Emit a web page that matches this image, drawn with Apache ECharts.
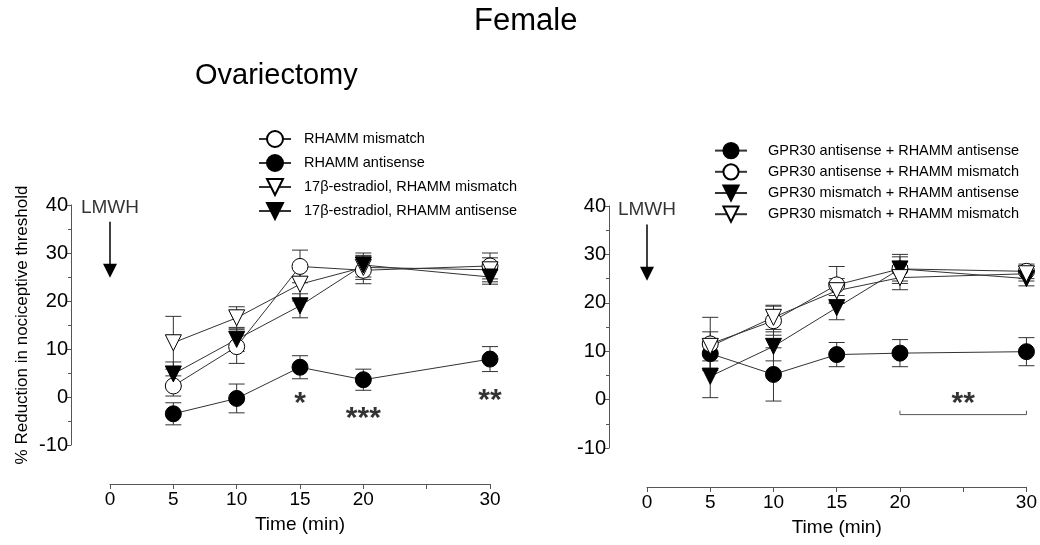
<!DOCTYPE html>
<html>
<head>
<meta charset="utf-8">
<script src="https://cdn.jsdelivr.net/npm/echarts@6/dist/echarts.min.js"></script>
<style>html,body{margin:0;padding:0;background:#fff}#c{width:1040px;height:545px}</style>
</head>
<body>
<div id="c"></div>
<script>
// ---- data ----
const times = [5, 10, 15, 20, 30];
const xTickLabels = [0, 5, 10, 15, 20, 30];
const yTickLabels = [-10, 0, 10, 20, 30, 40];

// Left panel (Ovariectomy)
const leftNames = ['RHAMM mismatch', 'RHAMM antisense', '17\u03b2-estradiol, RHAMM mismatch', '17\u03b2-estradiol, RHAMM antisense'];
const rhammMismatch = [2.3, 10.5, 27.2, 26.4, 27.3];
const rhammMismatchErr = [2.1, 3.5, 3.4, 2.8, 2.7];
const rhammAntisense = [-3.5, -0.3, 6.2, 3.6, 7.9];
const rhammAntisenseErr = [2.3, 3.0, 2.4, 2.2, 2.6];
const estMismatch = [11.3, 16.5, 23.5, 27.0, 26.5];
const estMismatchErr = [5.5, 2.3, 3.5, 2.5, 2.5];
const estAntisense = [4.8, 12.0, 19.0, 27.5, 25.0];
const estAntisenseErr = [2.5, 2.5, 2.5, 2.5, 1.5];
const leftSig = [[15, -1.4, '*'], [20, -4.5, '***'], [30, -0.8, '**']];

// Right panel
const rightNames = ['GPR30 antisense + RHAMM antisense', 'GPR30 antisense + RHAMM mismatch', 'GPR30 mismatch + RHAMM antisense', 'GPR30 mismatch + RHAMM mismatch'];
const gAsRAs = [9.5, 5.2, 9.3, 9.6, 9.9];
const gAsRAsErr = [3.0, 5.5, 2.5, 2.8, 2.9];
const gAsRMm = [11.5, 16.3, 23.7, 27.0, 26.5];
const gAsRMmErr = [5.5, 3.0, 3.8, 3.0, 1.5];
const gMmRAs = [4.8, 11.0, 19.0, 27.0, 25.0];
const gMmRAsErr = [4.4, 3.0, 2.5, 2.5, 1.5];
const gMmRMm = [11.0, 17.0, 22.5, 25.2, 26.0];
const gMmRMmErr = [3.0, 2.5, 2.5, 2.5, 1.5];
const rightSig = [[25, -0.8, '**']];
const rightBracket = [[20, -2.3], [20, -3.1], [30, -3.1], [30, -2.3]];

// LMWH injection marker
const lmwhX = 0;
const lmwhLabelY = [39.4, 39.3];
const lmwhArrowLeft = [36.5, 26.3];
const lmwhArrowRight = [36.2, 26.0];

// ---- build ----
const FONT = "'Liberation Sans', Arial, Helvetica, sans-serif";
const styles = {
  openCircle: { symbol: 'circle', rot: 0, fill: '#fff' },
  fillCircle: { symbol: 'circle', rot: 0, fill: '#000' },
  openTri: { symbol: 'triangle', rot: 180, fill: '#fff' },
  fillTri: { symbol: 'triangle', rot: 180, fill: '#000' }
};

function lineSeries(name, vals, st, gi) {
  return {
    type: 'line', name: name, xAxisIndex: gi, yAxisIndex: gi,
    data: times.map((t, i) => [t, vals[i]]),
    symbol: st.symbol, symbolRotate: st.rot, symbolSize: 16,
    showAllSymbol: true, clip: false, z: 3,
    itemStyle: { color: st.fill, borderColor: '#000', borderWidth: 1, opacity: 1 },
    lineStyle: { color: '#333', width: 1 },
    emphasis: { disabled: true }, animation: false
  };
}

function errSeries(vals, errs, gi) {
  return {
    type: 'custom', xAxisIndex: gi, yAxisIndex: gi, silent: true, z: 2, clip: false,
    data: times.map((t, i) => [t, vals[i], errs[i]]),
    renderItem: function (params, api) {
      const x = api.value(0), y = api.value(1), e = api.value(2);
      const top = api.coord([x, y + e]);
      const bot = api.coord([x, y - e]);
      const hw = 8;
      const st = { stroke: '#333', lineWidth: 1 };
      return {
        type: 'group', children: [
          { type: 'line', shape: { x1: top[0], y1: top[1], x2: bot[0], y2: bot[1] }, style: st },
          { type: 'line', shape: { x1: top[0] - hw, y1: top[1], x2: top[0] + hw, y2: top[1] }, style: st },
          { type: 'line', shape: { x1: bot[0] - hw, y1: bot[1], x2: bot[0] + hw, y2: bot[1] }, style: st }
        ]
      };
    },
    animation: false
  };
}

function sigSeries(sig, gi) {
  return {
    type: 'scatter', xAxisIndex: gi, yAxisIndex: gi, symbolSize: 0, silent: true, clip: false,
    data: sig.map(s => ({ value: [s[0], s[1]], label: { formatter: s[2] } })),
    label: { show: true, position: 'inside', fontSize: 30, fontWeight: 'bold', color: '#000', fontFamily: FONT },
    animation: false
  };
}

function lmwhSeries(gi, labelY, arrow) {
  return {
    type: 'scatter', xAxisIndex: gi, yAxisIndex: gi, symbolSize: 0, silent: true, clip: false,
    data: [{ value: [lmwhX, labelY], label: { formatter: 'LMWH' } }],
    label: { show: true, position: 'inside', fontSize: 19, color: '#000', fontFamily: FONT },
    markLine: {
      silent: true, symbol: ['none', 'triangle'], symbolSize: 14,
      label: { show: false },
      lineStyle: { color: '#000', width: 1.5, type: 'solid' },
      data: [[{ coord: [lmwhX, arrow[0]] }, { coord: [lmwhX, arrow[1]] }]],
      animation: false
    },
    animation: false
  };
}

function xAxis(gi) {
  return {
    type: 'value', gridIndex: gi, min: 0, max: 30, interval: 5, offset: 39,
    axisLine: { show: true, onZero: false, lineStyle: { color: '#555', width: 1 } },
    axisTick: { show: true, length: 5, lineStyle: { color: '#555' } },
    splitLine: { show: false },
    axisLabel: { fontSize: 19, color: '#000', margin: 6, fontFamily: FONT,
      formatter: v => xTickLabels.includes(v) ? String(v) : '' },
    name: 'Time (min)', nameLocation: 'middle', nameGap: 31,
    nameTextStyle: { fontSize: 19, color: '#000', fontFamily: FONT }
  };
}

function yAxis(gi, withName, off) {
  const a = {
    type: 'value', gridIndex: gi, min: -10, max: 40, interval: 10, offset: off,
    axisLine: { show: true, onZero: false, lineStyle: { color: '#555', width: 1 } },
    axisTick: { show: true, length: 4, lineStyle: { color: '#555' } },
    minorTick: { show: true, splitNumber: 2, length: 3, lineStyle: { color: '#555' } },
    splitLine: { show: false },
    axisLabel: { fontSize: 20, color: '#000', margin: 3, fontFamily: FONT,
      formatter: v => yTickLabels.includes(v) ? String(v) : '' }
  };
  if (withName) {
    a.name = '% Reduction in nociceptive threshold';
    a.nameLocation = 'middle';
    a.nameGap = 40;
    a.nameTextStyle = { fontSize: 17, color: '#000', fontFamily: FONT };
  }
  return a;
}

const leftStyles = [styles.openCircle, styles.fillCircle, styles.openTri, styles.fillTri];
const rightStyles = [styles.fillCircle, styles.openCircle, styles.fillTri, styles.openTri];
const leftVals = [rhammMismatch, rhammAntisense, estMismatch, estAntisense];
const leftErrs = [rhammMismatchErr, rhammAntisenseErr, estMismatchErr, estAntisenseErr];
const rightVals = [gAsRAs, gAsRMm, gMmRAs, gMmRMm];
const rightErrs = [gAsRAsErr, gAsRMmErr, gMmRAsErr, gMmRMmErr];

const series = [];
leftVals.forEach((v, i) => series.push(errSeries(v, leftErrs[i], 0)));
rightVals.forEach((v, i) => series.push(errSeries(v, rightErrs[i], 1)));
leftVals.forEach((v, i) => series.push(lineSeries(leftNames[i], v, leftStyles[i], 0)));
rightVals.forEach((v, i) => series.push(lineSeries(rightNames[i], v, rightStyles[i], 1)));
series.push(sigSeries(leftSig, 0));
series.push(sigSeries(rightSig, 1));
series.push({
  type: 'line', xAxisIndex: 1, yAxisIndex: 1, data: rightBracket, symbol: 'none', clip: false,
  lineStyle: { color: '#555', width: 1 }, silent: true, animation: false
});
series.push(lmwhSeries(0, lmwhLabelY[0], lmwhArrowLeft));
series.push(lmwhSeries(1, lmwhLabelY[1], lmwhArrowRight));

const legendCommon = {
  orient: 'vertical', itemWidth: 32, selectedMode: false,
  symbolRotate: 'inherit',
  textStyle: { fontSize: 14.5, color: '#000', fontFamily: FONT }
};

const option = {
  backgroundColor: '#fff',
  animation: false,
  title: [
    { text: 'Female', left: 469, top: 1, textStyle: { fontSize: 31, fontWeight: 'normal', color: '#000', fontFamily: FONT } },
    { text: 'Ovariectomy', left: 190, top: 56, textStyle: { fontSize: 29, fontWeight: 'normal', color: '#000', fontFamily: FONT } }
  ],
  grid: [
    { left: 110, top: 205, width: 380, height: 240 },
    { left: 647, top: 206, width: 381, height: 242 }
  ],
  xAxis: [xAxis(0), xAxis(1)],
  yAxis: [yAxis(0, true, 39), yAxis(1, false, 38)],
  legend: [
    Object.assign({}, legendCommon, { data: leftNames, left: 253, top: 125, itemHeight: 20, itemGap: 6,
      textStyle: Object.assign({}, legendCommon.textStyle, { padding: [0, 0, 0, 8] }) }),
    Object.assign({}, legendCommon, { data: rightNames, left: 709, top: 137, itemHeight: 19, itemGap: 4,
      textStyle: Object.assign({}, legendCommon.textStyle, { padding: [0, 0, 0, 16] }) })
  ],
  series: series
};

const chart = echarts.init(document.getElementById('c'), null, { renderer: 'canvas' });
chart.setOption(option);
</script>
</body>
</html>
